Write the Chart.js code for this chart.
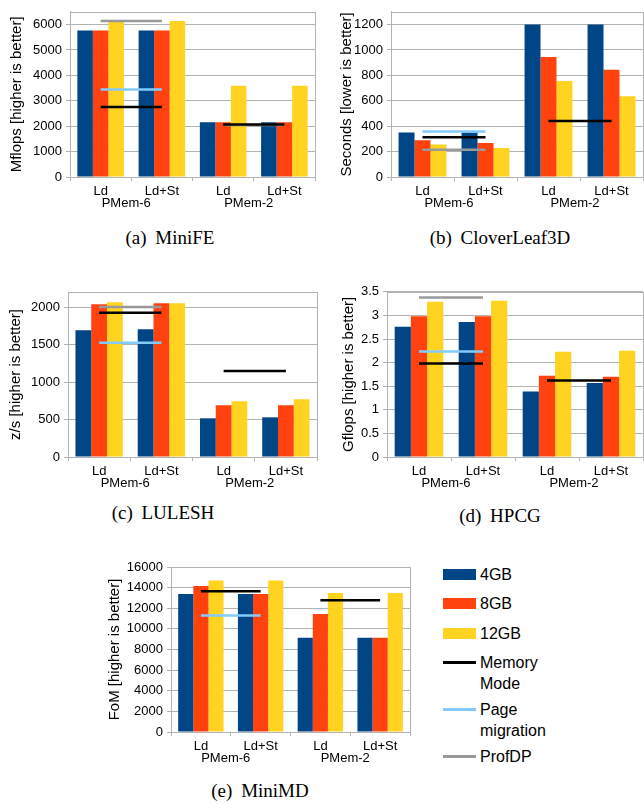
<!DOCTYPE html>
<html>
<head>
<meta charset="utf-8">
<script src="https://cdn.jsdelivr.net/npm/chart.js@4.4.1/dist/chart.umd.min.js"></script>
<style>
    body { margin: 0; background: #fff; width: 644px; height: 804px; position: relative; overflow: hidden; font-family: "Liberation Sans", Arial, sans-serif; }
    .box { position: absolute; }
    .cap { position: absolute; font-family: "Liberation Serif", "Times New Roman", serif; font-size: 19px; transform: translate(-50%, -50%); white-space: nowrap; word-spacing: 4px; color: #000; }
    .leg { position: absolute; left: 443px; font-size: 16px; line-height: 21px; color: #000; }
    .leg .sw { position: absolute; left: 0; width: 33px; }
    .leg .tx { position: absolute; left: 37px; white-space: nowrap; }
</style>
</head>
<body>
<div class="box" id="boxA"><canvas id="miniFE"></canvas></div>
<div class="box" id="boxB"><canvas id="cloverLeaf"></canvas></div>
<div class="box" id="boxC"><canvas id="lulesh"></canvas></div>
<div class="box" id="boxD"><canvas id="hpcg"></canvas></div>
<div class="box" id="boxE"><canvas id="miniMD"></canvas></div>

<div class="cap" style="left:170px;top:238px">(a) MiniFE</div>
<div class="cap" style="left:500px;top:238px">(b) CloverLeaf3D</div>
<div class="cap" style="left:163px;top:513px">(c) LULESH</div>
<div class="cap" style="left:500px;top:516px">(d) HPCG</div>
<div class="cap" style="left:260px;top:791px">(e) MiniMD</div>

<div id="legend"></div>

<script>
const categories = ['Ld', 'Ld+St', 'Ld', 'Ld+St'];
const groups = ['PMem-6', 'PMem-2'];
const seriesNames = ['4GB', '8GB', '12GB'];
const lineNames = ['Memory Mode', 'Page migration', 'ProfDP'];

// bars: one value per category, lines: one value per group
const miniFE4GB = [5760, 5760, 2155, 2155];
const miniFE8GB = [5760, 5760, 2155, 2155];
const miniFE12GB = [6130, 6140, 3595, 3595];
const miniFEMemoryMode = [2755, 2070];
const miniFEPageMigration = [3445, null];
const miniFEProfDP = [6140, 2045];
const miniFETicks = [0, 1000, 2000, 3000, 4000, 5000, 6000];

const cloverLeaf4GB = [351, 351, 1200, 1200];
const cloverLeaf8GB = [290, 267, 944, 844];
const cloverLeaf12GB = [256, 228, 756, 636];
const cloverLeafMemoryMode = [313, 441];
const cloverLeafPageMigration = [359, null];
const cloverLeafProfDP = [215, null];
const cloverLeafTicks = [0, 200, 400, 600, 800, 1000, 1200];

const lulesh4GB = [1689, 1702, 516, 529];
const lulesh8GB = [2036, 2049, 689, 689];
const lulesh12GB = [2062, 2049, 742, 769];
const luleshMemoryMode = [1924, 1147];
const luleshPageMigration = [1524, null];
const luleshProfDP = [2000, null];
const luleshTicks = [0, 500, 1000, 1500, 2000];

const hpcg4GB = [2.76, 2.86, 1.39, 1.57];
const hpcg8GB = [2.98, 2.98, 1.72, 1.70];
const hpcg12GB = [3.29, 3.31, 2.23, 2.25];
const hpcgMemoryMode = [1.98, 1.62];
const hpcgPageMigration = [2.235, null];
const hpcgProfDP = [3.38, null];
const hpcgTicks = [0, 0.5, 1, 1.5, 2, 2.5, 3, 3.5];

const miniMD4GB = [13390, 13390, 9130, 9130];
const miniMD8GB = [14160, 13390, 11450, 9130];
const miniMD12GB = [14680, 14680, 13480, 13480];
const miniMDMemoryMode = [13650, 12770];
const miniMDPageMigration = [11290, null];
const miniMDProfDP = [null, null];
const miniMDTicks = [0, 2000, 4000, 6000, 8000, 10000, 12000, 14000, 16000];

const colors = {
    bars: ['#004586', '#ff420e', '#ffd320'],
    lines: ['#000000', '#83caff', '#999999'],
    grid: '#b3b3b3'
};

Chart.defaults.font.family = '"Liberation Sans", Arial, sans-serif';
Chart.defaults.color = '#000';
Chart.defaults.animation = false;

const framePlugin = {
    id: 'frame',
    afterDraw(chart) {
        const { ctx, chartArea: a } = chart;
        ctx.save();
        ctx.strokeStyle = colors.grid;
        ctx.lineWidth = 1;
        ctx.strokeRect(Math.round(a.left) + 0.5, Math.round(a.top) + 0.5, Math.round(a.right - a.left), Math.round(a.bottom - a.top));
        ctx.restore();
    }
};

function groupLines(name, values, color) {
    const sets = [];
    values.forEach((v, g) => {
        if (v === null) return;
        sets.push({
            type: 'line',
            label: name,
            data: categories.map((c, i) => Math.floor(i / 2) === g ? v : null),
            borderColor: color,
            borderWidth: 2.5,
            pointRadius: 0,
            spanGaps: false,
            order: 1
        });
    });
    return sets;
}

function makeChart(id, boxId, lay, yTitle, yMax, yTicks, bars, lines) {
    const box = document.getElementById(boxId);
    const h = (lay.bottom - lay.y0) + 38;
    box.style.left = lay.x0 + 'px';
    box.style.top = lay.y0 + 'px';
    box.style.width = lay.w + 'px';
    box.style.height = h + 'px';

    const datasets = bars.map((d, i) => ({
        label: seriesNames[i],
        data: d,
        backgroundColor: colors.bars[i],
        categoryPercentage: 0.76,
        barPercentage: 1.0,
        order: 2
    }));
    lines.forEach((vals, i) => datasets.push(...groupLines(lineNames[i], vals, colors.lines[i])));

    new Chart(document.getElementById(id), {
        type: 'bar',
        data: { labels: categories, datasets: datasets },
        plugins: [framePlugin],
        options: {
            responsive: true,
            maintainAspectRatio: false,
            layout: { padding: { top: lay.top - lay.y0, right: lay.x0 + lay.w - lay.right, left: 0, bottom: 0 } },
            plugins: { legend: { display: false }, tooltip: { enabled: false } },
            scales: {
                x: {
                    weight: 0,
                    grid: { drawOnChartArea: false, drawTicks: true, tickLength: 4, offset: true, color: colors.grid },
                    border: { color: colors.grid },
                    ticks: { font: { size: 13 }, padding: 3, color: '#000', maxRotation: 0 },
                    afterFit: s => { s.height = 19; }
                },
                g: {
                    type: 'category',
                    labels: groups,
                    position: 'bottom',
                    weight: 1,
                    offset: true,
                    grid: { display: false, drawTicks: false },
                    border: { display: false },
                    ticks: { font: { size: 13 }, padding: 0, labelOffset: -5, color: '#000', maxRotation: 0 },
                    afterFit: s => { s.height = 19; }
                },
                y: {
                    min: 0,
                    max: yMax,
                    ticks: {
                        font: { size: 13 },
                        padding: 4,
                        color: '#000',
                        autoSkip: false,
                        callback: v => String(v)
                    },
                    afterBuildTicks: s => {
                        s.ticks = yTicks.map(v => ({ value: v }));
                    },
                    grid: { color: colors.grid, tickLength: 4 },
                    border: { color: colors.grid },
                    title: {
                        display: true,
                        text: yTitle,
                        font: { size: 15 },
                        color: '#000',
                        padding: { top: lay.titleCenter - 9, bottom: 0 }
                    },
                    afterFit: s => { s.width = lay.left - lay.x0; }
                }
            }
        }
    });
}

makeChart('miniFE', 'boxA', { x0: 0, y0: 0, w: 322, left: 70, top: 4, right: 315, bottom: 177, titleCenter: 17 },
    'Mflops [higher is better]', 6500, miniFETicks,
    [miniFE4GB, miniFE8GB, miniFE12GB], [miniFEMemoryMode, miniFEPageMigration, miniFEProfDP]);

makeChart('cloverLeaf', 'boxB', { x0: 322, y0: 0, w: 322, left: 391, top: 7, right: 643, bottom: 177, titleCenter: 25 },
    'Seconds [lower is better]', 1300, cloverLeafTicks,
    [cloverLeaf4GB, cloverLeaf8GB, cloverLeaf12GB], [cloverLeafMemoryMode, cloverLeafPageMigration, cloverLeafProfDP]);

makeChart('lulesh', 'boxC', { x0: 0, y0: 280, w: 322, left: 68, top: 292, right: 317, bottom: 457, titleCenter: 16 },
    'z/s [higher is better]', 2200, luleshTicks,
    [lulesh4GB, lulesh8GB, lulesh12GB], [luleshMemoryMode, luleshPageMigration, luleshProfDP]);

makeChart('hpcg', 'boxD', { x0: 322, y0: 280, w: 322, left: 387, top: 286, right: 643, bottom: 457, titleCenter: 27 },
    'Gflops [higher is better]', 3.5, hpcgTicks,
    [hpcg4GB, hpcg8GB, hpcg12GB], [hpcgMemoryMode, hpcgPageMigration, hpcgProfDP]);

makeChart('miniMD', 'boxE', { x0: 100, y0: 545, w: 330, left: 171, top: 567, right: 410, bottom: 732, titleCenter: 15 },
    'FoM [higher is better]', 16000, miniMDTicks,
    [miniMD4GB, miniMD8GB, miniMD12GB], [miniMDMemoryMode, miniMDPageMigration, miniMDProfDP]);

// legend, built from the same names and colours
const legendRows = [
    { name: seriesNames[0], color: colors.bars[0], bar: true, y: 574 },
    { name: seriesNames[1], color: colors.bars[1], bar: true, y: 603.5 },
    { name: seriesNames[2], color: colors.bars[2], bar: true, y: 633 },
    { name: 'Memory<br>Mode', color: colors.lines[0], bar: false, y: 662 },
    { name: 'Page<br>migration', color: colors.lines[1], bar: false, y: 709 },
    { name: lineNames[2], color: colors.lines[2], bar: false, y: 756 }
];
const leg = document.getElementById('legend');
legendRows.forEach(r => {
    const row = document.createElement('div');
    row.className = 'leg';
    row.style.top = r.y + 'px';
    const sw = document.createElement('div');
    sw.className = 'sw';
    const sh = r.bar ? 11 : 3;
    sw.style.height = sh + 'px';
    sw.style.top = (-sh / 2) + 'px';
    sw.style.background = r.color;
    const tx = document.createElement('div');
    tx.className = 'tx';
    tx.style.top = '-10.5px';
    tx.innerHTML = r.name;
    row.appendChild(sw);
    row.appendChild(tx);
    leg.appendChild(row);
});
</script>
</body>
</html>
